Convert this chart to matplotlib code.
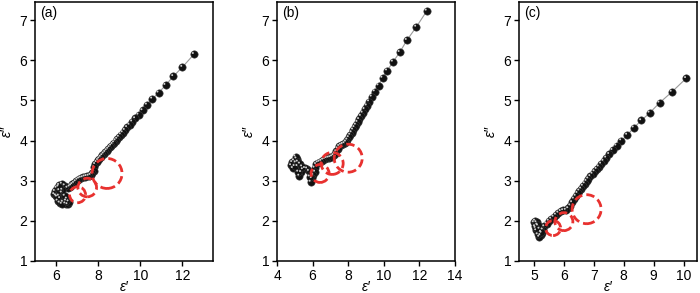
import matplotlib
matplotlib.use("Agg")
import matplotlib.pyplot as plt
from matplotlib.patches import Circle
from matplotlib.transforms import ScaledTranslation

plt.rcParams['font.family'] = ['Liberation Sans', 'DejaVu Sans']

# ---------------- data ----------------
xa = [12.55, 12.0, 11.57, 11.2, 10.87, 10.57, 10.32, 10.11, 9.92, 9.76, 9.62, 9.49,
      9.38, 9.27, 9.17, 9.08, 8.99, 8.91, 8.83, 8.76, 8.69, 8.62, 8.55, 8.48, 8.41,
      8.34, 8.27, 8.2, 8.13, 8.06, 8.0, 7.93, 7.86, 7.82, 7.78, 7.72, 7.64, 7.55,
      7.45, 7.36, 7.27, 7.18, 7.1, 7.02, 6.94, 6.86, 6.78, 6.72,
      6.65, 6.55, 6.42, 6.28, 6.15, 6.03, 5.95, 5.92, 6.0, 6.14, 6.28, 6.2, 6.08,
      6.18, 6.33, 6.45, 6.55, 6.6, 6.52, 6.42, 6.3, 6.16, 6.05, 6.12, 6.28, 6.48]
ya = [6.15, 5.83, 5.6, 5.38, 5.19, 5.04, 4.89, 4.75, 4.64, 4.55, 4.47, 4.39,
      4.33, 4.26, 4.2, 4.15, 4.09, 4.04, 4.0, 3.95, 3.91, 3.87, 3.83, 3.79, 3.75,
      3.71, 3.67, 3.63, 3.59, 3.55, 3.51, 3.46, 3.41, 3.33, 3.24, 3.18, 3.14, 3.12,
      3.11, 3.1, 3.08, 3.07, 3.05, 3.02, 2.98, 2.94, 2.91, 2.88,
      2.85, 2.82, 2.88, 2.92, 2.89, 2.82, 2.74, 2.66, 2.63, 2.62, 2.7, 2.56, 2.5,
      2.45, 2.47, 2.43, 2.41, 2.48, 2.55, 2.62, 2.77, 2.76, 2.6, 2.85, 2.42, 2.5]

xb = [12.42, 11.83, 11.3, 10.9, 10.52, 10.19, 9.93, 9.71, 9.5, 9.33, 9.18, 9.05,
      8.93, 8.82, 8.72, 8.62, 8.53, 8.44, 8.36, 8.28, 8.2, 8.12, 8.04, 7.96, 7.88,
      7.8, 7.7, 7.6, 7.5, 7.42, 7.34, 7.26, 7.18, 7.1, 7.0, 6.9, 6.8, 6.7, 6.6,
      6.5, 6.4, 6.3, 6.2, 6.12, 6.15, 6.05, 5.96, 5.9, 5.85, 5.8, 5.7, 5.58, 5.46,
      5.36, 5.26, 5.2, 5.16, 5.06, 4.96, 4.86, 4.8, 4.9, 5.0, 5.1, 5.04, 5.18,
      5.3, 5.42]
yb = [7.23, 6.83, 6.5, 6.2, 5.96, 5.74, 5.56, 5.37, 5.22, 5.09, 4.97, 4.87,
      4.78, 4.69, 4.61, 4.53, 4.46, 4.39, 4.33, 4.27, 4.2, 4.14, 4.08, 4.02, 3.97,
      3.93, 3.91, 3.89, 3.86, 3.8, 3.73, 3.67, 3.63, 3.6, 3.58, 3.57, 3.56, 3.54,
      3.52, 3.49, 3.47, 3.45, 3.41, 3.32, 3.22, 3.14, 3.06, 2.97, 3.1, 3.24, 3.3,
      3.31, 3.28, 3.21, 3.12, 3.22, 3.36, 3.45, 3.5, 3.46, 3.38, 3.31, 3.36, 3.55,
      3.6, 3.47, 3.42, 3.35]

xc = [10.09, 9.61, 9.2, 8.87, 8.59, 8.34, 8.12, 7.92, 7.76, 7.63, 7.52, 7.42,
      7.33, 7.25, 7.17, 7.1, 7.03, 6.96, 6.89, 6.82, 6.76, 6.7, 6.64, 6.58, 6.52,
      6.46, 6.4, 6.34, 6.28, 6.22, 6.15, 6.07, 5.98, 5.9, 5.82, 5.74, 5.66, 5.58,
      5.5, 5.42, 5.35, 5.3, 5.26, 5.22, 5.18, 5.13, 5.08, 5.04, 5.0, 5.04, 5.09,
      5.14, 5.19, 5.24, 5.12, 5.06]
yc = [5.55, 5.21, 4.94, 4.69, 4.5, 4.32, 4.14, 4.0, 3.87, 3.76, 3.66, 3.57,
      3.49, 3.42, 3.35, 3.29, 3.23, 3.17, 3.11, 3.05, 2.99, 2.93, 2.87, 2.8, 2.75,
      2.69, 2.62, 2.55, 2.46, 2.38, 2.31, 2.27, 2.26, 2.24, 2.2, 2.15, 2.1, 2.05,
      2.0, 1.93, 1.86, 1.78, 1.7, 1.64, 1.6, 1.66, 1.76, 1.86, 1.96, 2.0, 1.96,
      1.88, 1.8, 1.72, 1.9, 1.82]

# dashed circles: centers (data) and radii (pixels)
circ_a_x = [7.02, 7.48, 8.42]; circ_a_y = [2.65, 2.83, 3.18]; circ_a_r = [8, 9.3, 15]
circ_b_x = [6.42, 7.1, 8.0];   circ_b_y = [3.18, 3.43, 3.56]; circ_b_r = [9, 11, 14]
circ_c_x = [5.64, 6.0, 6.76];  circ_c_y = [1.82, 1.98, 2.29]; circ_c_r = [7.5, 9, 14.5]

labels = ['(a)', '(b)', '(c)']
xlims = [(5, 13.45), (4, 14), (4.5, 10.45)]
xticks = [[6, 8, 10, 12], [4, 6, 8, 10, 12, 14], [5, 6, 7, 8, 9, 10]]
yticks = [1, 2, 3, 4, 5, 6, 7]

# ---------------- figure ----------------
DPI = 100
fig = plt.figure(figsize=(7.0, 2.93), dpi=DPI)
lefts = [35, 277, 519]
axw = 178
bottom_px = 32
axh = 259

series = [(xa, ya, circ_a_x, circ_a_y, circ_a_r),
          (xb, yb, circ_b_x, circ_b_y, circ_b_r),
          (xc, yc, circ_c_x, circ_c_y, circ_c_r)]

for i, (xs, ys, cx, cy, cr) in enumerate(series):
    ax = fig.add_axes([lefts[i] / 700, bottom_px / 293, axw / 700, axh / 293])
    ax.set_xlim(*xlims[i])
    ax.set_ylim(1, 7.45)
    ax.plot(xs, ys, color='#9a9a9a', lw=0.8, zorder=2)
    ax.scatter(xs, ys, s=28, c='#111111', edgecolors='#3a3a3a', linewidths=0.4, zorder=3)
    hl = ax.transData + ScaledTranslation(-1.2 / DPI, 1.2 / DPI, fig.dpi_scale_trans)
    ax.scatter(xs, ys, s=2.0, c='#cfcfcf', edgecolors='none', zorder=4, transform=hl)
    for x0, y0, r in zip(cx, cy, cr):
        tr = fig.dpi_scale_trans + ScaledTranslation(x0, y0, ax.transData)
        c = Circle((0, 0), r / DPI, transform=tr, fill=False, edgecolor='#e8312f',
                   lw=2.0, ls=(0, (3.0, 1.5)), zorder=5)
        ax.add_patch(c)
    ax.set_xticks(xticks[i])
    ax.set_yticks(yticks)
    ax.tick_params(direction='out', length=3.5, width=1.0, labelsize=10, pad=2,
                   top=False, right=False)
    for sp in ax.spines.values():
        sp.set_linewidth(1.1)
    ax.set_xlabel("ε′", fontstyle='italic', fontsize=10)
    ax.xaxis.set_label_coords(0.5, -0.072)
    ax.set_ylabel("ε″", fontstyle='italic', fontsize=10, labelpad=4)
    ax.text(0.03, 0.985, labels[i], transform=ax.transAxes, fontsize=10,
            ha='left', va='top')

fig.savefig('out.png', dpi=DPI)
